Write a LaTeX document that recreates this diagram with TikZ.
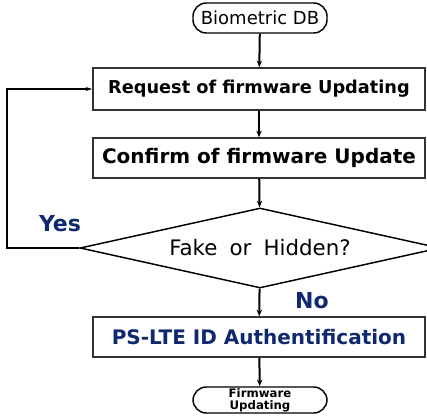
\documentclass[tikz,border=0pt]{standalone}
\usepackage{fontspec}
\setmainfont{DejaVu Sans}
\newfontfamily\widefont[WordSpace=1.8]{DejaVu Sans}
\usepackage{xcolor}
\usepackage{tikz}
\usetikzlibrary{shapes.geometric, shadows, arrows.meta}

\definecolor{ltenavy}{RGB}{16,40,110}

\tikzset{
  flowbox/.style={draw=black!80, line width=1.1pt, fill=white, minimum width=249pt,
    minimum height=30pt, inner sep=0.75pt,
    drop shadow={shadow xshift=1pt, shadow yshift=-1pt, fill=black!45, opacity=0.6}},
  termbox/.style={draw=black, line width=1.1pt, fill=white, rounded corners=10pt,
    minimum width=100.5pt, inner xsep=0pt, inner ysep=0.75pt, align=center},
  flowarrow/.style={line width=1.5pt, -{Stealth[length=5pt, width=4pt]}},
  answer/.style={text=ltenavy, font=\bfseries\fontsize{16.5}{18}\selectfont},
}

\begin{document}
\begin{tikzpicture}[x=0.75pt,y=0.75pt,yscale=-1,xscale=1]
\useasboundingbox (0,0) rectangle (427,419);

%Shape: Terminal
\node [termbox, minimum height=22.5pt, font=\fontsize{13.5}{14}\selectfont] (db) at (260,18) {Biometric DB};
%Shape: Rectangle
\node [flowbox, minimum height=31.5pt, font=\bfseries\fontsize{13.3}{15}\selectfont] (req) at (259,89) {Request of firmware Updating};
%Shape: Rectangle
\node [flowbox, font=\bfseries\fontsize{15}{17}\selectfont] (conf) at (259,158) {Confirm of firmware Update};
%Shape: Diamond
\node [diamond, draw=black, line width=1.1pt, minimum width=270pt, minimum height=60pt,
  shape aspect=4.5, inner sep=0pt,
  font=\widefont\fontsize{16}{18}\selectfont] (dec) at (260,248) {Fake or Hidden?};
%Shape: Rectangle
\node [flowbox, font=\bfseries\fontsize{15}{17}\selectfont, text=ltenavy] (auth) at (259,337) {PS-LTE ID Authentification};
%Shape: Terminal
\node [termbox, minimum height=19.5pt, font=\bfseries\fontsize{8.8}{9}\selectfont] (fw) at (260,400) {Firmware\\Updating};

%Straight Lines
\draw [flowarrow] (db) -- (req);
\draw [flowarrow] (req) -- (conf);
\draw [flowarrow] (conf) -- (dec);
\draw [flowarrow] (dec) -- (auth);
\draw [flowarrow] (auth) -- (fw);

%Straight Lines (loop back)
\coordinate (loopx) at (7,0);
\draw [line width=0.9pt, -{Stealth[length=5pt, width=3pt]}]
  (dec.west) -- (dec.west -| loopx) -- (req.west -| loopx) -- (req.west);

% Text Node
\node [answer] (yes) at (60,224) {Yes};
% Text Node
\node [answer] (no) at (312,301) {No};

\end{tikzpicture}
\end{document}
